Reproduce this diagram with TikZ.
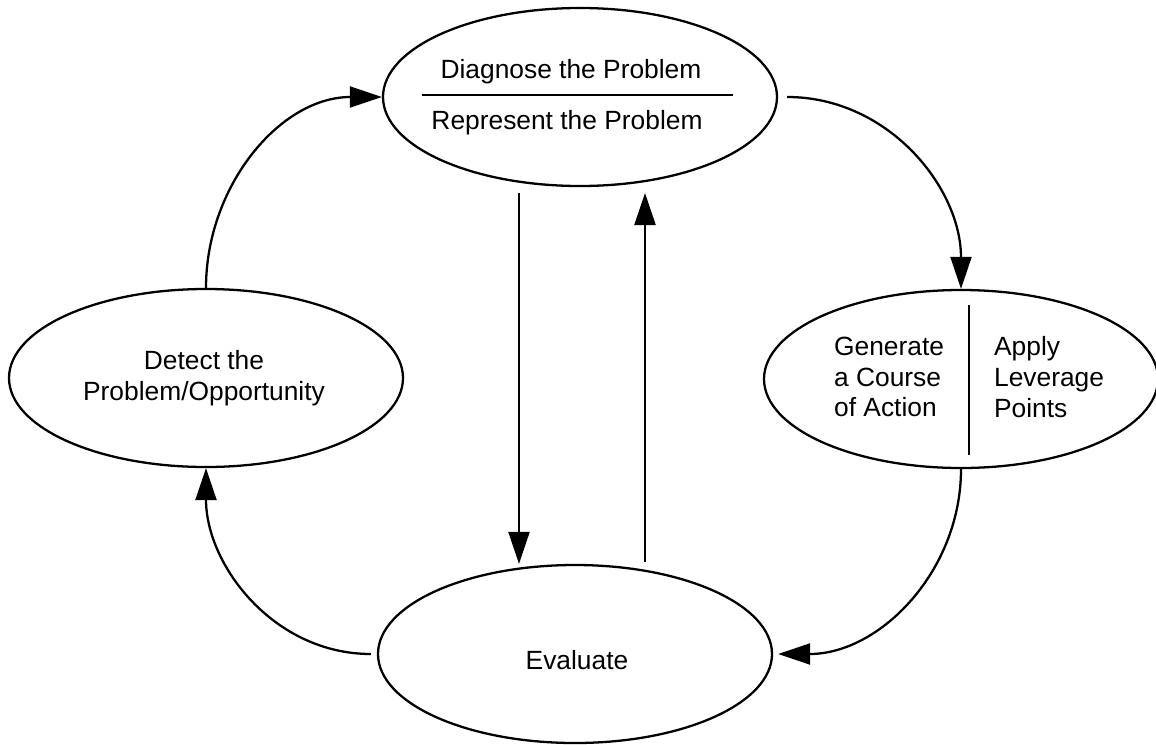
\documentclass[tikz,border=0pt]{standalone}
\usepackage{fontspec}
\setmainfont{Liberation Sans}
\usetikzlibrary{shapes.geometric, arrows.meta}

\begin{document}
\begin{tikzpicture}[x=0.2mm, y=-0.2mm, line width=1.3pt,
        stage/.style={draw, ellipse, inner sep=0pt, minimum width=78.8mm, minimum height=35.6mm},
        txt/.style={font=\fontsize{15}{17.5}\selectfont, inner sep=0pt},
        flow/.style={-{Triangle[length=6.4mm, width=4.2mm]}}]
        \useasboundingbox (0,0) rectangle (1156,744);
        % the four stages
        \node[stage] (diagnose) at (580,97) {};
        \node[stage] (detect) at (206,378) {};
        \node[stage] (generate) at (961,379) {};
        \node[stage] (evaluate) at (575,654) {};
        % texts in the stages
        \node[txt] (diagtext) at (571,72) {Diagnose the Problem};
        \draw (422,95) -- (733,95);
        \node[txt] (reptext) at (567,123) {Represent the Problem};
        \node[txt, align=center] (detecttext) at (204,378) {Detect the\\Problem/Opportunity};
        \node[txt, align=left, anchor=west] (gentext) at (833,377) {Generate\\a Course\\of Action};
        \draw (969,305) -- (969,455);
        \node[txt, align=left, anchor=west] (applytext) at (993,377) {Apply\\Leverage\\Points};
        \node[txt] (evaltext) at (577,660) {Evaluate};
        % the outer cycle
        \draw[flow] (detect.north) to[out=90, in=180] (diagnose.west);
        \draw[flow] ([xshift=1.8mm]diagnose.east) to[out=0, in=90] (generate.north);
        \draw[flow] (generate.south) to[out=-90, in=0] ([xshift=1mm]evaluate.east);
        \draw[flow] ([xshift=-1.2mm]evaluate.west) to[out=180, in=-90] (detect.south);
        % down and back up in the middle
        \coordinate (downstart) at (519,193);
        \coordinate (upstart) at (645,562);
        \coordinate (upend) at (645,193);
        \draw[flow] (downstart) -- (downstart |- evaluate.north);
        \draw[flow] (upstart) -- (upend);
    \end{tikzpicture}
\end{document}
